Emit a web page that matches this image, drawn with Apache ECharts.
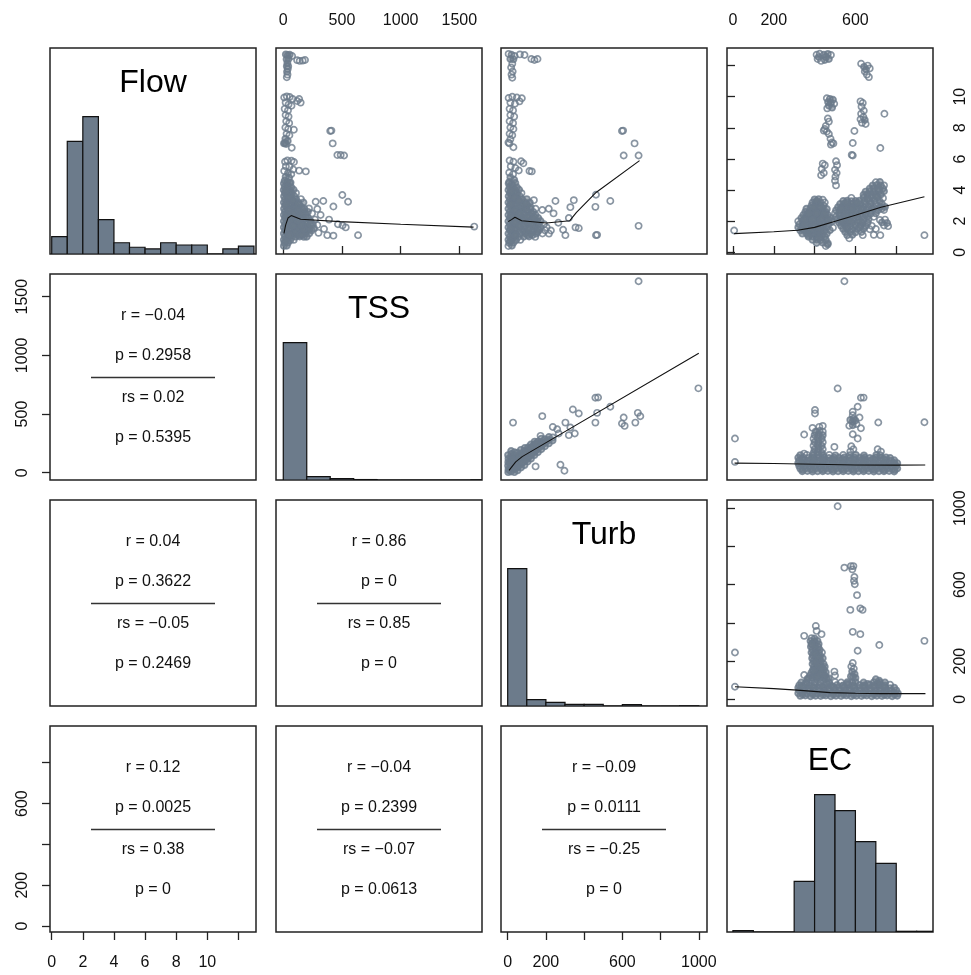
<!DOCTYPE html>
<html><head><meta charset="utf-8">
<script src="https://cdn.jsdelivr.net/npm/echarts@6/dist/echarts.min.js"></script>
<style>html,body{margin:0;padding:0;background:#fff}#c{width:971px;height:975px}</style>
</head><body><div id="c"></div>
<script>
// ---------------- data ----------------
const varNames = ['Flow', 'TSS', 'Turb', 'EC'];
const flowRange = [-0.11, 13.13];
const tssRange = [-62, 1693];
const turbRange = [-35, 1043];
const ecRange = [-29, 980];

const flowTicks = [0, 2, 4, 6, 8, 10, 12];
const flowTickLabels = ['0', '2', '4', '6', '8', '10', ''];
const tssTicks = [0, 500, 1000, 1500];
const tssTickLabels = ['0', '500', '1000', '1500'];
const turbTicks = [0, 200, 400, 600, 800, 1000];
const turbTickLabels = ['0', '200', '', '600', '', '1000'];
const ecTicks = [0, 200, 400, 600, 800];
const ecTickLabels = ['0', '200', '', '600', ''];

// histogram bins: [start, end, count]
const flowBins = [[0,1,31],[1,2,200],[2,3,244],[3,4,61],[4,5,20],[5,6,12],[6,7,9],[7,8,20],[8,9,16],[9,10,16],[10,11,0],[11,12,9],[12,13,14]];
const tssBins = [[0,200,625],[200,400,15],[400,600,6],[600,800,2],[800,1000,0],[1000,1200,0],[1200,1400,0],[1400,1600,0],[1600,1800,1]];
const turbBins = [[0,100,597],[100,200,28],[200,300,16],[300,400,7],[400,500,7],[500,600,0],[600,700,6],[700,800,0],[800,900,0],[900,1000,1]];
const ecBins = [[0,100,2],[100,200,0],[200,300,0],[300,400,70],[400,500,190],[500,600,168],[600,700,125],[700,800,95],[800,900,1],[900,1000,1]];

// correlation panels (lower triangle), row/col 0-based
const corrCells = [[1,0],[2,0],[2,1],[3,0],[3,1],[3,2]];
const corrR  = ['\u22120.04', '0.04', '0.86', '0.12', '\u22120.04', '\u22120.09'];
const corrP  = ['0.2958', '0.3622', '0', '0.0025', '0.2399', '0.0111'];
const corrRs = ['0.02', '\u22120.05', '0.85', '0.38', '\u22120.07', '\u22120.25'];
const corrPs = ['0.5395', '0.2469', '0', '0', '0.0613', '0'];

// scatter: [TSS, Flow]
const tssFlow = [
[22,12.72],[38,12.66],[55,12.7],[75,12.62],[118,12.35],[140,12.3],[165,12.32],[185,12.36],[28,12.4],[45,12.42],[35,12.15],[30,11.95],[38,11.78],[32,11.6],[36,11.42],[30,11.25],[42,11.95],
[8,9.95],[30,10.02],[55,9.98],[80,9.85],[118,9.72],[148,9.62],[135,9.85],[20,9.62],[45,9.5],[70,9.42],[12,9.22],[40,9.12],[20,8.82],[45,8.72],[25,8.42],[50,8.3],[18,8.02],[42,7.92],[90,7.88],[28,7.62],[52,7.52],[18,7.3],[38,7.15],[6,7.0],[14,7.02],[24,6.96],[72,6.72],
[400,7.8],[410,7.82],[421,7.0],[461,6.25],[489,6.25],[518,6.22],
[15,5.82],[35,5.9],[91,5.8],[70,5.88],[22,5.52],[52,5.5],[85,5.32],[135,5.25],[192,5.2],[8,5.22],[40,5.1],[68,5.02],[20,4.85],[50,4.8],[12,4.6],[35,4.52],[62,4.48],
[5,4.42],[30,4.38],[55,4.45],[12,4.2],[38,4.22],[68,4.18],[4,4.0],[28,4.03],[58,3.98],[88,4.02],
[15,3.8],[44,3.82],[74,3.78],[108,3.8],[6,3.6],[32,3.62],[60,3.58],[95,3.6],
[16,3.4],[46,3.42],[76,3.38],[110,3.4],[150,3.42],[5,3.2],[30,3.22],[62,3.18],[92,3.2],[128,3.21],[172,3.2],
[16,3.0],[46,3.02],[76,2.98],[106,3.0],[140,3.01],[6,2.8],[32,2.82],[60,2.78],[90,2.8],[124,2.81],[160,2.79],
[15,2.6],[45,2.62],[75,2.58],[105,2.6],[140,2.61],[182,2.6],[5,2.4],[30,2.42],[60,2.38],[90,2.4],[120,2.41],[150,2.39],[192,2.4],
[16,2.2],[45,2.22],[75,2.18],[105,2.2],[135,2.21],[170,2.19],[212,2.2],[5,2.0],[30,2.02],[60,1.98],[90,2.0],[120,2.01],[150,1.99],[186,2.0],[232,2.01],
[15,1.8],[45,1.82],[75,1.78],[105,1.8],[135,1.81],[165,1.79],[200,1.8],[252,1.81],[5,1.6],[30,1.62],[60,1.58],[90,1.6],[120,1.61],[150,1.59],[182,1.6],[216,1.61],
[15,1.4],[45,1.42],[75,1.38],[105,1.4],[135,1.41],[165,1.39],[200,1.4],[242,1.41],[5,1.2],[30,1.22],[60,1.18],[90,1.2],[120,1.21],[150,1.19],[186,1.2],[222,1.21],
[15,1.0],[45,1.02],[75,0.98],[105,1.0],[140,1.01],[176,0.99],[5,0.8],[30,0.82],[60,0.78],[90,0.8],[10,0.6],[40,0.62],[5,0.4],[30,0.42],
[18,3.9],[50,3.5],[22,3.1],[54,2.7],[20,2.3],[52,1.9],[22,1.5],[55,1.1],[20,0.7],[85,3.3],[85,2.5],[85,1.7],[115,2.9],[115,2.1],[115,1.3],
[130,3.1],[155,2.9],[130,2.7],[160,2.5],[135,2.3],[165,2.1],[195,2.2],[140,1.9],[170,1.7],[200,1.6],[140,1.5],[165,1.3],[195,1.3],[135,1.1],[160,1.1],[200,1.0],[225,1.5],[230,1.8],[210,2.6],[180,2.8],[175,1.5],[150,1.75],[125,2.05],
[276,3.25],[341,3.3],[427,2.94],[503,3.68],[552,3.25],[290,2.78],[219,2.82],[390,2.1],[466,1.8],[532,1.6],[505,1.72],[347,1.5],[375,1.1],[427,1.07],[637,1.1],[1627,1.65],[290,1.75],[262,1.55],[318,2.4],[300,1.25],[245,2.5],[270,2.1]
];
const tssFlowFit = [[6,1.22],[20,1.75],[40,2.2],[68,2.36],[148,2.12],[484,1.97],[1000,1.8],[1621,1.62]];

// scatter: [Turb, Flow]
const turbFlow = [
[5,12.75],[20,12.7],[36,12.62],[64,12.72],[88,12.68],[124,12.42],[140,12.36],[156,12.42],[14,12.42],[30,12.4],[24,12.12],[18,11.88],[26,11.62],[20,11.42],[24,11.22],
[5,9.92],[24,10.0],[48,9.95],[74,9.9],[62,9.7],[14,9.62],[38,9.55],[10,9.22],[28,9.12],[14,8.82],[34,8.72],[10,8.42],[28,8.3],[14,8.02],[30,7.92],[10,7.62],[24,7.52],[14,7.26],[4,7.06],[9,7.0],[30,6.75],
[10,5.9],[30,5.82],[70,5.85],[82,5.72],[114,5.22],[126,5.2],[16,5.52],[40,5.42],[8,5.12],[28,5.02],[58,5.26],[14,4.82],[34,4.66],[8,4.52],
[5,4.42],[22,4.38],[40,4.45],[10,4.2],[28,4.22],[48,4.18],[4,4.0],[22,4.03],[40,3.98],[60,4.02],
[12,3.8],[30,3.82],[50,3.78],[72,3.8],[5,3.6],[22,3.62],[42,3.58],[64,3.6],
[12,3.4],[32,3.42],[54,3.38],[76,3.4],[100,3.42],[4,3.2],[22,3.22],[44,3.18],[66,3.2],[90,3.21],[116,3.2],
[12,3.0],[32,3.02],[54,2.98],[76,3.0],[102,3.01],[4,2.8],[22,2.82],[44,2.78],[66,2.8],[90,2.81],[118,2.79],
[12,2.6],[34,2.62],[56,2.58],[80,2.6],[106,2.61],[134,2.6],[4,2.4],[22,2.42],[44,2.38],[66,2.4],[90,2.41],[116,2.39],[146,2.4],
[12,2.2],[34,2.22],[56,2.18],[80,2.2],[104,2.21],[130,2.19],[160,2.2],[4,2.0],[22,2.02],[44,1.98],[66,2.0],[90,2.01],[114,1.99],[140,2.0],[172,2.01],
[12,1.8],[34,1.82],[56,1.78],[80,1.8],[104,1.81],[130,1.79],[158,1.8],[190,1.81],[4,1.6],[22,1.62],[44,1.58],[66,1.6],[90,1.61],[116,1.59],[144,1.6],[172,1.61],[204,1.6],
[12,1.4],[34,1.42],[56,1.38],[80,1.4],[106,1.41],[134,1.39],[164,1.4],[196,1.41],[226,1.4],[4,1.2],[22,1.22],[44,1.18],[66,1.2],[92,1.21],[120,1.19],[150,1.2],[182,1.21],[216,1.2],
[12,1.0],[34,1.02],[56,0.98],[84,1.0],[112,1.01],[144,0.99],[4,0.8],[22,0.82],[44,0.78],[66,0.8],[8,0.6],[30,0.62],[4,0.4],[22,0.42],
[16,3.9],[38,3.5],[14,3.1],[40,2.7],[16,2.3],[40,1.9],[14,1.5],[40,1.1],[14,0.7],[60,3.3],[62,2.5],[62,1.7],[94,2.9],[94,2.1],[96,1.3],
[100,3.1],[120,2.9],[100,2.7],[125,2.5],[105,2.3],[130,2.1],[155,2.0],[110,1.9],[135,1.7],[160,1.5],[110,1.5],[130,1.3],[155,1.3],[105,1.1],[130,1.1],[125,1.85],[140,2.25],
[598,7.8],[604,7.82],[664,7.0],[607,6.22],[685,6.22],[462,3.7],[459,2.92],[537,3.3],[685,1.7],[462,1.1],[468,1.12],[346,3.35],[328,2.9],[250,3.3],[215,2.8],[181,2.72],[137,3.35],[146,2.8],[355,1.6],[372,1.55],[302,1.1],[290,1.45],[265,1.9],[320,2.2],[240,2.5]
];
const turbFlowFit = [[3,1.97],[20,2.1],[38,2.25],[73,2.03],[203,1.88],[325,2.03],[360,2.57],[464,3.86],[690,5.89]];

// scatter: [EC, Flow]
const ecFlow = [
[410,12.7],[425,12.76],[445,12.7],[465,12.75],[480,12.68],[415,12.42],[432,12.3],[450,12.36],[470,12.42],[420,12.55],[456,12.56],
[628,12.12],[642,11.92],[660,12.0],[670,11.82],[646,11.62],[656,11.42],[666,11.26],[652,11.75],
[460,9.9],[475,9.86],[490,9.8],[466,9.66],[480,9.6],[496,9.55],[470,9.42],[486,9.3],[462,9.25],
[625,9.7],[636,9.6],[630,9.36],[641,9.1],[628,8.9],[639,8.7],[646,8.5],[632,8.32],[650,8.25],[625,8.55],
[742,8.9],
[465,8.6],[470,8.4],[455,8.12],[450,7.92],[460,7.76],[470,7.6],[478,7.3],[485,7.06],[480,6.92],[492,7.0],[445,7.82],
[595,7.8],[587,7.02],[587,6.22],[582,6.26],[722,6.7],
[440,5.7],[450,5.6],[435,5.35],[445,5.1],[432,4.95],
[505,5.85],[510,5.6],[500,5.3],[508,5.1],[502,4.86],[500,4.6],[505,4.3],
[400,3.4],[420,3.42],[440,3.38],[390,3.2],[410,3.22],[430,3.18],[450,3.2],[385,3.0],[405,3.02],[425,2.98],[445,3.0],
[360,2.8],[380,2.82],[400,2.78],[420,2.8],[440,2.82],[460,2.78],[355,2.6],[375,2.62],[395,2.58],[415,2.6],[435,2.62],[455,2.58],
[345,2.4],[365,2.42],[385,2.38],[405,2.4],[425,2.42],[445,2.38],[465,2.4],[335,2.2],[355,2.22],[375,2.18],[395,2.2],[415,2.22],[435,2.18],[455,2.2],[475,2.22],
[320,2.0],[340,2.02],[360,1.98],[380,2.0],[400,2.02],[420,1.98],[440,2.0],[460,2.02],[485,1.98],[325,1.8],[345,1.82],[365,1.78],[385,1.8],[405,1.82],[425,1.78],[445,1.8],[470,1.82],
[320,1.6],[340,1.62],[360,1.58],[380,1.6],[400,1.62],[420,1.58],[440,1.6],[460,1.62],[490,1.58],[330,1.4],[350,1.42],[370,1.38],[390,1.4],[410,1.42],[430,1.38],[450,1.4],[475,1.42],
[340,1.2],[360,1.22],[380,1.18],[400,1.2],[420,1.22],[440,1.18],[460,1.2],[370,1.0],[390,1.02],[410,0.98],[430,1.0],[450,1.02],[390,0.8],[410,0.82],[430,0.78],[455,0.8],[410,0.6],[440,0.62],[465,0.58],[455,0.4],
[410,3.3],[395,2.9],[430,2.9],[370,2.5],[410,2.5],[450,2.5],[350,2.1],[390,2.1],[430,2.1],[470,2.1],[350,1.7],[395,1.7],[435,1.7],[340,1.5],[385,1.5],[425,1.5],[370,1.1],[420,1.1],[420,0.9],
[700,4.5],[720,4.52],[685,4.3],[705,4.32],[725,4.28],[740,4.3],[670,4.1],[690,4.12],[710,4.08],[735,4.1],[650,3.9],[670,3.92],[690,3.88],[715,3.9],[740,3.92],[640,3.7],[660,3.72],[680,3.68],[700,3.7],[725,3.72],
[580,3.5],[640,3.52],[660,3.48],[685,3.5],[710,3.52],[735,3.48],[540,3.3],[560,3.32],[580,3.28],[600,3.3],[620,3.32],[645,3.28],[670,3.3],[695,3.32],[720,3.28],
[525,3.1],[545,3.12],[565,3.08],[585,3.1],[605,3.12],[625,3.08],[650,3.1],[675,3.12],[700,3.08],[730,3.1],
[515,2.9],[535,2.92],[555,2.88],[575,2.9],[595,2.92],[615,2.88],[640,2.9],[665,2.92],[690,2.88],[720,2.9],[745,2.92],
[505,2.7],[525,2.72],[545,2.68],[565,2.7],[585,2.72],[605,2.68],[630,2.7],[655,2.72],[680,2.68],[710,2.7],[740,2.72],
[500,2.5],[520,2.52],[540,2.48],[560,2.5],[580,2.52],[600,2.48],[625,2.5],[650,2.52],[675,2.48],[700,2.5],
[505,2.3],[525,2.32],[545,2.28],[565,2.3],[585,2.32],[610,2.28],[635,2.3],[660,2.32],[690,2.28],
[510,2.1],[530,2.12],[550,2.08],[570,2.1],[590,2.12],[615,2.08],[640,2.1],[665,2.12],[720,2.08],[745,2.1],
[520,1.9],[540,1.92],[560,1.88],[585,1.9],[610,1.92],[635,1.88],[660,1.9],[730,1.92],[755,1.88],
[530,1.7],[550,1.72],[575,1.68],[600,1.7],[625,1.72],[650,1.68],[680,1.7],[740,1.72],[760,1.68],
[540,1.5],[560,1.52],[585,1.48],[610,1.5],[640,1.52],[670,1.48],[700,1.5],[550,1.3],[575,1.32],[600,1.28],[630,1.3],[560,1.1],[585,1.12],[636,1.1],[690,1.12],[570,0.9],
[555,3.2],[610,3.2],[660,3.4],[530,2.8],[580,2.8],[630,2.8],[680,2.8],[730,2.8],[550,2.4],[600,2.4],[650,2.4],[530,2.0],[575,2.0],[625,2.0],[560,1.6],[620,1.6],[700,3.6],[715,4.0],
[6,1.4],[938,1.1],[464,0.5],[722,1.1]
];
const ecFlowFit = [[6,1.2],[200,1.32],[317,1.42],[400,1.6],[497,1.98],[600,2.38],[725,2.9],[938,3.57]];

// scatter: [Turb, TSS]
const turbTss = [
[3,5],[4,30],[2,60],[3,90],[4,120],[2,150],
[18,10],[17,40],[19,70],[18,100],[17,130],[19,160],[18,185],
[35,5],[34,30],[36,60],[35,90],[34,120],[36,150],[35,175],
[52,20],[53,50],[51,80],[52,110],[53,140],[51,170],
[70,45],[71,75],[69,105],[70,135],[71,165],[69,195],
[88,65],[87,95],[89,125],[88,155],[87,185],[89,210],
[105,95],[106,125],[104,155],[105,185],[106,215],
[122,120],[121,150],[123,180],[122,210],[121,240],
[140,150],[141,180],[139,210],[140,240],[141,265],
[158,175],[157,205],[159,235],[158,265],
[176,200],[177,230],[175,260],[176,290],
[195,225],[196,255],[194,285],
[215,250],[214,280],[216,305],
[235,275],[236,300],
[10,20],[26,50],[10,80],[26,110],[44,40],[44,100],[60,65],[60,125],[78,90],[78,150],[96,110],[96,170],[113,140],[113,200],[130,165],[130,225],[150,195],[150,250],[168,220],[185,245],[205,270],
[685,1631],[998,719],[459,639],[473,641],[341,539],[372,505],[537,562],[468,510],[459,427],[607,470],[598,419],[612,399],[668,427],[681,510],[694,481],[28,427],[181,482],[302,427],[236,390],[259,370],[328,385],[320,320],[351,334],[267,334],[172,314],[146,54],[276,68],[297,17]
];
const turbTssFit = [[7,20],[42,92],[76,137],[1000,1018]];

// scatter: [EC, TSS]
const ecTss = [
[330,150],[362,152],[392,148],[418,151],[442,149],[472,152],[502,148],[540,151],[572,149],[602,152],[642,148],[702,151],[722,149],
[320,128],[345,130],[370,126],[395,129],[420,127],[445,130],[470,126],[495,129],[520,127],[545,130],[570,126],[595,129],[620,127],[645,130],[670,126],[700,129],[725,127],[750,130],[770,126],
[325,105],[350,107],[375,103],[400,106],[425,104],[450,107],[475,103],[500,106],[525,104],[550,107],[575,103],[600,106],[625,104],[650,107],[675,103],[700,106],[725,104],[750,107],[775,103],[790,106],
[320,82],[340,84],[365,80],[390,83],[415,81],[440,84],[465,80],[490,83],[515,81],[540,84],[565,80],[590,83],[615,81],[640,84],[665,80],[690,83],[715,81],[740,84],[765,80],[790,83],[805,81],
[325,58],[350,60],[375,56],[400,59],[425,57],[450,60],[475,56],[500,59],[525,57],[550,60],[575,56],[600,59],[625,57],[650,60],[675,56],[700,59],[725,57],[750,60],[775,56],[800,59],
[330,35],[355,37],[380,33],[405,36],[430,34],[455,37],[480,33],[505,36],[530,34],[555,37],[580,33],[605,36],[630,34],[655,37],[680,33],[705,36],[730,34],[755,37],[780,33],[805,36],
[340,12],[365,14],[390,11],[415,13],[440,12],[465,14],[490,11],[515,13],[540,12],[565,14],[590,11],[615,13],[640,12],[665,14],[690,11],[715,13],[740,12],[765,14],[790,11],
[337,117],[387,118],[437,116],[487,117],[537,118],[587,116],[637,117],[687,118],[737,116],[337,70],[387,71],[437,69],[487,70],[537,71],[587,69],[637,70],[687,71],[737,69],[787,70],[342,24],[392,25],[442,23],[492,24],[542,25],[592,23],[642,24],[692,25],[742,23],[792,24],
[395,170],[415,175],[435,170],[400,200],[420,205],[440,200],[395,230],[415,235],[435,230],[400,260],[420,265],[440,260],[395,290],[415,295],[435,290],[400,320],[420,325],[440,320],[405,350],[425,355],[440,350],[390,382],[423,391],[440,399],
[402,534],[402,505],[349,325],[349,163],
[546,1631],[513,718],[627,639],[640,640],
[611,562],[587,520],[587,490],[590,460],[587,435],[587,405],[575,450],[600,445],[620,470],[605,415],[570,400],[627,379],[587,328],[611,291],
[712,428],[938,430],[10,291],[10,92],[497,220],[709,200],[725,180],[575,180],[590,200],[580,225]
];
const ecTssFit = [[8,82],[200,78],[400,72],[600,66],[800,65],[942,66]];

// scatter: [EC, Turb]
const ecTurb = [
[335,88],[360,90],[400,89],[430,87],[470,88],[500,90],[530,88],[560,89],[585,87],[600,90],[640,88],[690,89],[720,87],[745,88],
[325,74],[350,76],[375,72],[400,75],[425,73],[450,76],[480,72],[510,75],[540,73],[565,76],[590,72],[620,75],[645,73],[670,76],[695,72],[720,75],[745,73],[770,76],
[320,60],[345,62],[370,58],[395,61],[420,59],[445,62],[470,58],[495,61],[520,59],[545,62],[570,58],[595,61],[620,59],[645,62],[670,58],[695,61],[720,59],[745,62],[770,58],[790,61],
[325,46],[350,48],[375,44],[400,47],[425,45],[450,48],[475,44],[500,47],[525,45],[550,48],[575,44],[600,47],[625,45],[650,48],[675,44],[700,47],[725,45],[750,48],[775,44],[800,47],
[320,32],[340,34],[365,30],[390,33],[415,31],[440,34],[465,30],[490,33],[515,31],[540,34],[565,30],[590,33],[615,31],[640,34],[665,30],[690,33],[715,31],[740,34],[765,30],[790,33],[808,31],
[330,18],[355,20],[380,16],[405,19],[430,17],[455,20],[480,16],[505,19],[530,17],[555,20],[580,16],[605,19],[630,17],[655,20],[680,16],[705,19],[730,17],[755,20],[780,16],[805,19],
[337,67],[387,68],[437,66],[487,67],[537,68],[587,66],[637,67],[687,68],[737,66],[342,25],[392,26],[442,24],[492,25],[542,26],[592,24],[642,25],[692,26],[742,24],[792,25],[360,82],[460,81],[560,82],[660,81],[710,82],
[385,320],[400,318],[380,305],[398,304],[414,306],[388,290],[405,291],[420,289],[382,275],[400,276],[418,274],[390,260],[408,261],[425,259],
[385,245],[403,246],[420,244],[436,245],[392,230],[410,231],[428,229],[388,215],[406,216],[424,214],[440,215],[395,200],[413,201],[431,199],
[390,185],[408,186],[426,184],[444,185],[398,170],[416,171],[434,169],[450,170],[392,155],[410,156],[428,154],[446,155],
[385,140],[403,141],[421,139],[439,140],[455,141],[378,125],[396,126],[414,124],[432,125],[450,126],[372,110],[390,111],[408,109],[426,110],[444,111],[460,109],
[399,238],[417,222],[404,192],[421,178],[437,162],[395,148],[430,132],[412,117],[452,118],
[349,332],[406,384],[410,358],[434,341],[385,288],
[587,190],[580,172],[592,160],[584,145],[596,132],[578,120],[600,112],[588,118],
[497,145],[500,125],[349,127],[365,108],[717,97],[700,105],[470,110],
[513,1010],[546,689],[578,697],[590,697],[585,680],[595,640],[593,620],[597,602],[608,545],[575,468],[624,476],[635,468],[587,353],[624,341],[611,254],[717,284],[938,306],[10,245],[10,66]
];
const ecTurbFit = [[10,66],[200,56],[314,48],[477,35],[600,32],[722,30],[943,30]];

// ---------------- layout / build ----------------
const S = 206;
const colLefts = [50, 276, 501, 727];
const rowTops = [48, 274, 500, 726];
const ranges = [flowRange, tssRange, turbRange, ecRange];
const binsList = [flowBins, tssBins, turbBins, ecBins];
const scatterCells = [
  {r:0, c:1, data:tssFlow, fit:tssFlowFit},
  {r:0, c:2, data:turbFlow, fit:turbFlowFit},
  {r:0, c:3, data:ecFlow, fit:ecFlowFit},
  {r:1, c:2, data:turbTss, fit:turbTssFit},
  {r:1, c:3, data:ecTss, fit:ecTssFit},
  {r:2, c:3, data:ecTurb, fit:ecTurbFit}
];
const FONT = "'Liberation Sans', Arial, Helvetica, sans-serif";
const PT = '#6C7B8B';

const grid = [], xAxis = [], yAxis = [], series = [], graphic = [];

for (let r = 0; r < 4; r++) {
  for (let c = 0; c < 4; c++) {
    const g = grid.length;
    grid.push({left: colLefts[c], top: rowTops[r], width: S, height: S, show: true,
      borderColor: '#222', borderWidth: 1.5, backgroundColor: 'rgba(0,0,0,0)', outerBoundsMode: 'none', containLabel: false});
    let yr;
    if (r === c) yr = [0, 1.5 * Math.max(...binsList[r].map(b => b[2]))];
    else if (r < c) yr = ranges[r];
    else yr = [0, 1];
    xAxis.push({type: 'value', gridIndex: g, min: ranges[c][0], max: ranges[c][1], show: false});
    yAxis.push({type: 'value', gridIndex: g, min: yr[0], max: yr[1], show: false});
    if (r === c) {
      series.push({
        type: 'custom', xAxisIndex: g, yAxisIndex: g, clip: true, silent: true,
        data: binsList[r],
        renderItem: function (params, api) {
          const p0 = api.coord([api.value(0), 0]);
          const p1 = api.coord([api.value(1), api.value(2)]);
          return {type: 'rect', shape: {x: p0[0], y: p1[1], width: p1[0] - p0[0], height: p0[1] - p1[1]},
            style: {fill: PT, stroke: '#111', lineWidth: 1.2}};
        }
      });
      graphic.push({type: 'text', x: colLefts[c] + S / 2, y: rowTops[r] + 35, silent: true,
        style: {text: varNames[r], fontSize: 32, fontFamily: FONT, fill: '#000', align: 'center', verticalAlign: 'middle', textAlign: 'center', textVerticalAlign: 'middle'}});
    }
  }
}

// overplotted points (many neighbours on screen) get a tinted fill so dense clusters read as solid, like the original
function styledPoints(data, xr, yr) {
  const px = data.map(d => [(d[0] - xr[0]) / (xr[1] - xr[0]) * S, (d[1] - yr[0]) / (yr[1] - yr[0]) * S]);
  return data.map((d, i) => {
    let n = 0;
    for (let j = 0; j < px.length; j++) {
      if (j === i) continue;
      const dx = px[i][0] - px[j][0], dy = px[i][1] - px[j][1];
      if (dx * dx + dy * dy < 30) n++;
    }
    return n >= 4 ? {value: d, itemStyle: {color: 'rgba(108,123,139,0.75)'}} : {value: d};
  });
}

scatterCells.forEach(cell => {
  const g = cell.r * 4 + cell.c;
  series.push({type: 'scatter', xAxisIndex: g, yAxisIndex: g, data: styledPoints(cell.data, ranges[cell.c], ranges[cell.r]),
    symbol: 'circle', symbolSize: 6.2,
    silent: true, itemStyle: {color: 'rgba(0,0,0,0)', borderColor: PT, borderWidth: 1.7}, z: 2});
  series.push({type: 'line', xAxisIndex: g, yAxisIndex: g, data: cell.fit, showSymbol: false, silent: true,
    lineStyle: {color: '#111', width: 1.1}, z: 3});
});

corrCells.forEach((rc, i) => {
  const cx = colLefts[rc[1]] + S / 2, t = rowTops[rc[0]];
  const lines = [['r = ' + corrR[i], 42], ['p = ' + corrP[i], 82], ['rs = ' + corrRs[i], 124], ['p = ' + corrPs[i], 164]];
  lines.forEach(l => graphic.push({type: 'text', x: cx, y: t + l[1], silent: true,
    style: {text: l[0], fontSize: 16, fontFamily: FONT, fill: '#111', align: 'center', verticalAlign: 'middle', textAlign: 'center', textVerticalAlign: 'middle'}}));
  graphic.push({type: 'line', silent: true, shape: {x1: cx - 62, y1: t + 103.5, x2: cx + 62, y2: t + 103.5},
    style: {stroke: '#333', lineWidth: 1.4}});
});

// outer axes, built on helper grids spanning first..last tick
function addAxis(side, idx, ticks, labels) {
  const g = grid.length;
  const range = ranges[idx];
  const frac = t => (t - range[0]) / (range[1] - range[0]);
  const t0 = ticks[0], tn = ticks[ticks.length - 1], step = ticks[1] - ticks[0];
  const lab = v => { const k = ticks.indexOf(Math.round(v)); return k >= 0 ? labels[k] : ''; };
  const tickStyle = {show: true, length: 8, inside: false, lineStyle: {color: '#222', width: 1.3}};
  const labStyle = {show: true, fontSize: 16, fontFamily: FONT, color: '#111', formatter: lab, showMinLabel: true, showMaxLabel: true};
  if (side === 'top' || side === 'bottom') {
    const row = side === 'top' ? 0 : 3;
    const x0 = colLefts[idx] + frac(t0) * S, x1 = colLefts[idx] + frac(tn) * S;
    grid.push({left: x0, width: x1 - x0, top: rowTops[row], height: S, show: false, outerBoundsMode: 'none', containLabel: false});
    xAxis.push({type: 'value', gridIndex: g, position: side, min: t0, max: tn, interval: step,
      axisLine: {show: false}, splitLine: {show: false}, axisTick: tickStyle,
      axisLabel: Object.assign({margin: side === 'top' ? 19 : 23}, labStyle)});
    yAxis.push({type: 'value', gridIndex: g, min: 0, max: 1, show: false});
  } else {
    const col = side === 'left' ? 0 : 3;
    const yTop = rowTops[idx] + S - frac(tn) * S, yBot = rowTops[idx] + S - frac(t0) * S;
    grid.push({left: colLefts[col], width: S, top: yTop, height: yBot - yTop, show: false, outerBoundsMode: 'none', containLabel: false});
    yAxis.push({type: 'value', gridIndex: g, position: side, min: t0, max: tn, interval: step,
      axisLine: {show: false}, splitLine: {show: false}, axisTick: tickStyle,
      axisLabel: Object.assign({margin: side === 'left' ? 19 : 20, rotate: 90}, labStyle)});
    xAxis.push({type: 'value', gridIndex: g, min: 0, max: 1, show: false});
  }
}
addAxis('bottom', 0, flowTicks, flowTickLabels);
addAxis('top', 1, tssTicks, tssTickLabels);
addAxis('bottom', 2, turbTicks, turbTickLabels);
addAxis('top', 3, ecTicks, ecTickLabels);
addAxis('right', 0, flowTicks, flowTickLabels);
addAxis('left', 1, tssTicks, tssTickLabels);
addAxis('right', 2, turbTicks, turbTickLabels);
addAxis('left', 3, ecTicks, ecTickLabels);

const chart = echarts.init(document.getElementById('c'), null, {renderer: 'canvas'});
chart.setOption({backgroundColor: '#fff', animation: false, grid, xAxis, yAxis, series, graphic});
</script></body></html>
